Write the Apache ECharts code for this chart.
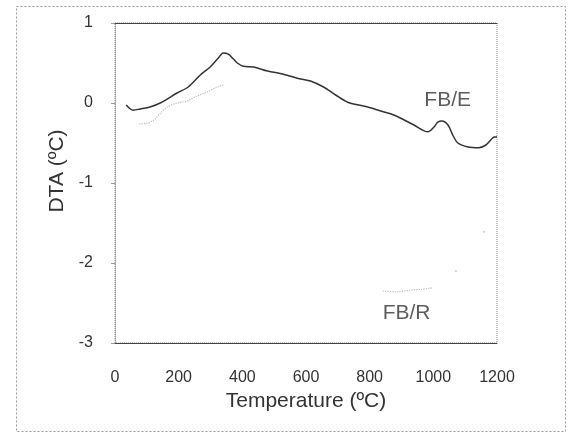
<!DOCTYPE html>
<html>
<head>
<meta charset="utf-8">
<script src="https://cdn.jsdelivr.net/npm/echarts@6/dist/echarts.min.js"></script>
<style>
html,body{margin:0;padding:0;background:#fff;}
#chart{width:568px;height:433px;}
</style>
</head>
<body>
<div id="chart"></div>
<script>
// Temperature (°C), DTA (°C)
const fbeTemp = [35, 57, 79, 110, 142, 195, 230, 268, 299, 324, 340, 356, 372, 384, 403, 435, 479, 529, 583, 614, 655, 693, 731, 794, 835, 876, 939, 983, 1002, 1014, 1027, 1046, 1061, 1077, 1109, 1143, 1165, 1181, 1191, 1200];
const fbeDTA  = [-0.025, -0.09, -0.075, -0.05, 0.0, 0.125, 0.2, 0.35, 0.45, 0.56, 0.625, 0.61, 0.55, 0.5, 0.46, 0.45, 0.4, 0.36, 0.3, 0.275, 0.2, 0.1, 0.01, -0.05, -0.1, -0.15, -0.275, -0.36, -0.3, -0.24, -0.225, -0.275, -0.4, -0.5, -0.55, -0.56, -0.525, -0.46, -0.425, -0.425];

// FB/R is only faintly visible in the reference; gaps are left where it cannot be seen
const fbrTemp = [76, 100, 120, 140, 164, 195, 227, 252, 290, 321, 340, 600, 841, 882, 929, 961, 998];
const fbrDTA  = [-0.26, -0.255, -0.22, -0.14, -0.05, 0.0, 0.025, 0.075, 0.14, 0.2, 0.225, null, -2.35, -2.36, -2.34, -2.33, -2.31];
const fbrDotTemp = [1071, 1159];
const fbrDotDTA  = [-2.1, -1.61];

const xTicks = [0, 200, 400, 600, 800, 1000, 1200];
const yTicks = [-3, -2, -1, 0, 1];
const labelE = 'FB/E';
const labelR = 'FB/R';

const zip = (a, b) => a.map((v, i) => [v, b[i]]);
const font = '"Liberation Sans", Arial, sans-serif';
const chart = echarts.init(document.getElementById('chart'), null, {renderer: 'canvas'});

chart.setOption({
  backgroundColor: '#fff',
  animation: false,
  graphic: [{
    type: 'rect', left: 14, top: 4, silent: true,
    shape: {width: 549, height: 425},
    style: {fill: 'none', stroke: '#999', lineWidth: 1, lineDash: [2, 2]}
  }],
  grid: {left: 115, top: 23, right: 71, bottom: 90, show: true, borderColor: '#888', borderWidth: 1, borderType: 'dotted'},
  xAxis: [{
    type: 'value', min: xTicks[0], max: xTicks[xTicks.length - 1], interval: 200,
    name: 'Temperature (ºC)', nameLocation: 'middle', nameGap: 44,
    nameTextStyle: {fontFamily: font, fontSize: 21, color: '#333'},
    axisLine: {show: true, onZero: false, lineStyle: {color: '#444', width: 1}},
    axisTick: {show: false},
    axisLabel: {margin: 27, fontFamily: font, fontSize: 16, color: '#333', formatter: v => String(v)},
    splitLine: {show: false}
  }, {
    type: 'value', position: 'top', min: xTicks[0], max: xTicks[xTicks.length - 1],
    axisLine: {show: true, onZero: false, lineStyle: {color: '#444', width: 1}},
    axisTick: {show: false}, axisLabel: {show: false}, splitLine: {show: false}
  }],
  yAxis: {
    type: 'value', min: yTicks[0], max: yTicks[yTicks.length - 1], interval: 1,
    name: 'DTA (ºC)', nameLocation: 'middle', nameGap: 45,
    nameTextStyle: {fontFamily: font, fontSize: 21, color: '#333', padding: [0, 0, 0, 24]},
    axisLine: {show: true, onZero: false, lineStyle: {color: '#999', width: 1, type: 'dotted'}},
    axisTick: {show: true, length: 4, lineStyle: {color: '#999'}},
    axisLabel: {margin: 22, fontFamily: font, fontSize: 16, color: '#333'},
    splitLine: {show: false}
  },
  series: [{
    name: labelE, type: 'line', data: zip(fbeTemp, fbeDTA), smooth: 0.3,
    showSymbol: false, lineStyle: {color: '#333', width: 1.5}
  }, {
    name: labelR, type: 'line', data: zip(fbrTemp, fbrDTA), smooth: 0.3, connectNulls: false,
    showSymbol: false, lineStyle: {color: '#bbb', width: 1.2, type: 'dotted'}
  }, {
    name: labelR + ' dots', type: 'scatter', data: zip(fbrDotTemp, fbrDotDTA),
    symbolSize: 2, itemStyle: {color: '#bbb'}
  }, {
    name: 'labels', type: 'scatter', symbolSize: 0, silent: true,
    data: [
      {value: [1045, 0.04], label: {show: true, formatter: labelE}},
      {value: [916, -2.63], label: {show: true, formatter: labelR}}
    ],
    label: {position: 'inside', fontFamily: font, fontSize: 21, color: '#333'}
  }]
});
</script>
</body>
</html>
